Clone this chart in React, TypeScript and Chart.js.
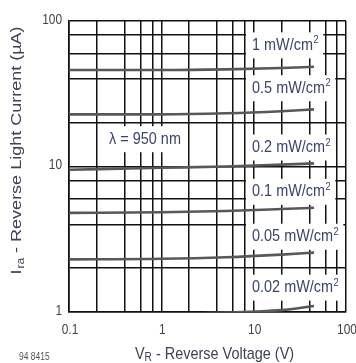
import React, { useEffect, useRef } from 'react';
import { Chart, registerables } from 'chart.js';

Chart.register(...registerables);

// ---- data ----
const voltages = [0.1, 1, 5, 20, 45];
const current1 = [46, 46, 46.5, 47.5, 48.5];
const current05 = [22.8, 22.8, 23.2, 24, 24.7];
const current02 = [9.5, 9.8, 10, 10.3, 10.5];
const current01 = [4.8, 4.85, 4.95, 5.1, 5.2];
const current005 = [2.3, 2.32, 2.38, 2.48, 2.56];
const current002 = [0.96, 0.97, 0.99, 1.03, 1.1];

const seriesNames = ['1 mW/cm', '0.5 mW/cm', '0.2 mW/cm', '0.1 mW/cm', '0.05 mW/cm', '0.02 mW/cm'];
const seriesValues = [current1, current05, current02, current01, current005, current002];
const labelVoltage = 9.6; // where series labels start
const labelCurrents = [68, 34.5, 13.5, 6.7, 3.29, 1.47];

const wavelengthText = 'λ = 950 nm';
const wavelengthAt = { x: 0.665, y: 15.4 };

const xMajorTicks = [0.1, 1, 10, 100];
const yMajorTicks = [1, 10, 100];
const minorMultipliers = [2, 4, 6, 8];

const xTitleMain = 'V';
const xTitleSub = 'R';
const xTitleRest = ' - Reverse Voltage (V)';
const yTitleMain = 'I';
const yTitleSub = 'ra';
const yTitleRest = ' - Reverse Light Current (µA)';
const figureCode = '94 8415';

// ---- helpers ----
const FONT = '"Liberation Sans", Arial, sans-serif';
const SX = 0.85;

function gridValues(majors: number[]) {
  const out: number[] = [];
  majors.forEach((m, i) => {
    out.push(m);
    if (i < majors.length - 1) minorMultipliers.forEach((k) => out.push(+(m * k).toPrecision(6)));
  });
  return out;
}

function fmt(v: number) {
  return String(v);
}

export default function App() {
  const ref = useRef<HTMLCanvasElement | null>(null);

  useEffect(() => {
    const canvas = ref.current;
    if (!canvas) return;

    const textPlugin = {
      id: 'texts',
      beforeDatasetsDraw(chart: any) {
        const ctx = chart.ctx as CanvasRenderingContext2D;
        const xs = chart.scales.x;
        const ys = chart.scales.y;
        ctx.save();
        const drawLabel = (main: string, sup: string, left: number, cy: number) => {
          ctx.font = `17px ${FONT}`;
          const wMain = ctx.measureText(main).width * SX;
          ctx.font = `11px ${FONT}`;
          const wSup = sup ? ctx.measureText(sup).width * SX : 0;
          const w = wMain + wSup;
          ctx.fillStyle = '#fff';
          ctx.fillRect(left - 6, cy - 13, w + 11, 26);
          ctx.fillStyle = '#3b4470';
          ctx.textBaseline = 'middle';
          ctx.textAlign = 'left';
          ctx.save();
          ctx.translate(left, cy);
          ctx.scale(SX, 1);
          ctx.font = `17px ${FONT}`;
          ctx.fillText(main, 0, 0);
          ctx.restore();
          if (sup) {
            ctx.save();
            ctx.translate(left + wMain, cy - 5);
            ctx.scale(SX, 1);
            ctx.font = `11px ${FONT}`;
            ctx.fillText(sup, 0.5, 0);
            ctx.restore();
          }
        };
        seriesNames.forEach((name, i) => {
          drawLabel(name, '2', xs.getPixelForValue(labelVoltage), ys.getPixelForValue(labelCurrents[i]));
        });
        ctx.font = `17px ${FONT}`;
        const wl = ctx.measureText(wavelengthText).width * SX;
        drawLabel(wavelengthText, '', xs.getPixelForValue(wavelengthAt.x) - wl / 2, ys.getPixelForValue(wavelengthAt.y));
        ctx.restore();
      },
      afterDraw(chart: any) {
        const ctx = chart.ctx as CanvasRenderingContext2D;
        const xs = chart.scales.x;
        const ys = chart.scales.y;
        const area = chart.chartArea;
        ctx.save();
        // tick labels
        ctx.fillStyle = '#444';
        ctx.font = `14px ${FONT}`;
        ctx.textBaseline = 'middle';
        xMajorTicks.forEach((v) => {
          const px = xs.getPixelForValue(v);
          ctx.save();
          ctx.translate(px + 1, area.bottom + 18);
          ctx.scale(SX, 1);
          ctx.textAlign = 'center';
          ctx.fillText(fmt(v), 0, 0);
          ctx.restore();
        });
        yMajorTicks.forEach((v) => {
          const py = ys.getPixelForValue(v);
          ctx.save();
          ctx.translate(area.left - 7, py - 1);
          ctx.scale(SX, 1);
          ctx.textAlign = 'right';
          ctx.fillText(fmt(v), 0, 0);
          ctx.restore();
        });

        // x title
        ctx.fillStyle = '#3d4256';
        ctx.textAlign = 'left';
        ctx.textBaseline = 'alphabetic';
        ctx.font = `17px ${FONT}`;
        const wV = ctx.measureText(xTitleMain).width * SX;
        const wRest = ctx.measureText(xTitleRest).width * SX;
        ctx.font = `12px ${FONT}`;
        const wR = ctx.measureText(xTitleSub).width * SX;
        const total = wV + wR + wRest;
        const cx = (area.left + area.right) / 2 + 7;
        const x0 = cx - total / 2;
        const base = 359;
        const put = (s: string, x: number, y: number, size: number) => {
          ctx.save();
          ctx.translate(x, y);
          ctx.scale(SX, 1);
          ctx.font = `${size}px ${FONT}`;
          ctx.fillText(s, 0, 0);
          ctx.restore();
        };
        put(xTitleMain, x0, base, 17);
        put(xTitleSub, x0 + wV, base + 2, 12);
        put(xTitleRest, x0 + wV + wR, base, 17);

        // y title (rotated)
        ctx.save();
        ctx.translate(21, 151);
        ctx.rotate(-Math.PI / 2);
        ctx.scale(1, SX);
        ctx.font = `18px ${FONT}`;
        const yI = ctx.measureText(yTitleMain).width;
        const yRest = ctx.measureText(yTitleRest).width;
        ctx.font = `12px ${FONT}`;
        const ySub = ctx.measureText(yTitleSub).width;
        const yTot = yI + ySub + yRest;
        const y0 = -yTot / 2;
        ctx.font = `18px ${FONT}`;
        ctx.fillText(yTitleMain, y0, 0);
        ctx.font = `12px ${FONT}`;
        ctx.fillText(yTitleSub, y0 + yI + 1, 3);
        ctx.font = `18px ${FONT}`;
        ctx.fillText(yTitleRest, y0 + yI + ySub + 1, 0);
        ctx.restore();

        // figure code
        ctx.fillStyle = '#555';
        put(figureCode, 19, 360, 10);
        ctx.restore();
      },
    };

    const gridColor = '#111';
    const chart = new Chart(canvas, {
      type: 'line',
      data: {
        datasets: seriesValues.map((vals, i) => ({
          label: seriesNames[i],
          data: vals.map((v, j) => ({ x: voltages[j], y: v })),
          borderColor: '#585858',
          borderWidth: 2.6,
          pointRadius: 0,
          cubicInterpolationMode: 'monotone' as const,
          fill: false,
        })),
      },
      options: {
        animation: false,
        responsive: false,
        devicePixelRatio: 1,
        layout: { padding: { top: 21, right: 10, left: 0, bottom: 0 } },
        plugins: { legend: { display: false }, tooltip: { enabled: false }, title: { display: false } },
        scales: {
          x: {
            type: 'logarithmic',
            min: 0.1,
            max: 100,
            afterBuildTicks: (s: any) => {
              s.ticks = gridValues(xMajorTicks).map((v) => ({ value: v }));
            },
            afterFit: (s: any) => {
              s.height = 51;
            },
            ticks: { display: false, autoSkip: false },
            grid: { color: gridColor, lineWidth: 1.5, drawTicks: false },
            border: { display: true, color: gridColor, width: 1.6 },
          },
          y: {
            type: 'logarithmic',
            min: 1,
            max: 100,
            afterBuildTicks: (s: any) => {
              s.ticks = gridValues(yMajorTicks).map((v) => ({ value: v }));
            },
            afterFit: (s: any) => {
              s.width = 69;
            },
            ticks: { display: false, autoSkip: false },
            grid: { color: gridColor, lineWidth: 1.5, drawTicks: false },
            border: { display: true, color: gridColor, width: 1.6 },
          },
        },
      },
      plugins: [textPlugin],
    });

    return () => chart.destroy();
  }, []);

  return (
    <div style={{ position: 'fixed', left: 0, top: 0, width: 356, height: 363, background: '#fff' }}>
      <canvas ref={ref} width={356} height={363} style={{ display: 'block' }} />
    </div>
  );
}
